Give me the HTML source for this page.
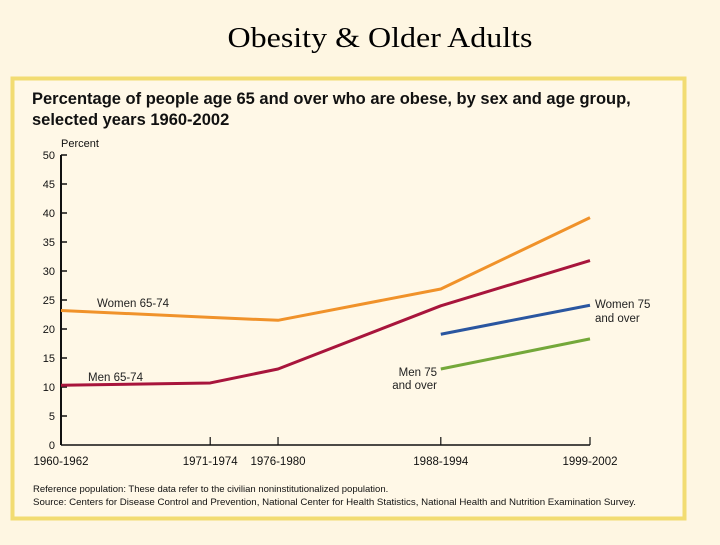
<!DOCTYPE html>
<html><head><meta charset="utf-8"><style>
body{margin:0;width:720px;height:540px;background:#FEF6E2;overflow:hidden;font-family:"Liberation Sans",sans-serif}
</style></head><body>
<svg width="720" height="540">
<text x="380" y="47" text-anchor="middle" font-family="Liberation Serif" font-size="29" fill="#000" textLength="305" lengthAdjust="spacingAndGlyphs">Obesity &amp; Older Adults</text>
<rect x="12.5" y="78.5" width="672" height="440" fill="#FFF8E7" stroke="#F2DC72" stroke-width="4"/>
<text x="32" y="104" font-size="16.5" font-weight="bold" fill="#111">Percentage of people age 65 and over who are obese, by sex and age group,</text>
<text x="32" y="125" font-size="16.5" font-weight="bold" fill="#111">selected years 1960-2002</text>
<text x="61" y="147" font-size="11" fill="#111">Percent</text>
<g id="axes"></g><g id="series"></g>
<text x="33" y="492" font-size="9.5" fill="#111">Reference population: These data refer to the civilian noninstitutionalized population.</text>
<text x="33" y="505" font-size="9.5" fill="#111" textLength="603" lengthAdjust="spacingAndGlyphs">Source: Centers for Disease Control and Prevention, National Center for Health Statistics, National Health and Nutrition Examination Survey.</text>
</svg>
<script>
const categories=["1960-1962","1971-1974","1976-1980","1988-1994","1999-2002"];
const startYears=[1960,1971,1976,1988,1999];
const women6574=[23.2,22.0,21.5,26.9,39.2];
const men6574=[10.3,10.7,13.1,24.0,31.8];
const women75=[null,null,null,19.1,24.1];
const men75=[null,null,null,13.1,18.3];
const yTicks=[0,5,10,15,20,25,30,35,40,45,50];
const NS="http://www.w3.org/2000/svg";
const X=y=>61+(y-1960)*(590-61)/39;
const Y=v=>445-v*5.8;
function mk(t,a,p){const e=document.createElementNS(NS,t);for(const k in a)e.setAttribute(k,a[k]);p.appendChild(e);return e;}
const ax=document.getElementById('axes');
const yl=mk('line',{x1:61,y1:Y(0),x2:61,y2:Y(50),stroke:'#111','stroke-width':2},ax);


const xl=mk('line',{x1:61,y1:Y(0),x2:X(1999),y2:Y(0),stroke:'#111','stroke-width':1.5},ax);


yTicks.forEach(v=>{
  if(v>0){const tk=mk('line',{x1:61,y1:Y(v),x2:67,y2:Y(v),stroke:'#111','stroke-width':1.5},ax);
  
  }
  const t=mk('text',{x:55,y:Y(v)+4,'text-anchor':'end','font-size':11,fill:'#111'},ax);t.textContent=v;
  
  
});
categories.forEach((c,i)=>{
  const x=X(startYears[i]);
  if(i>0){const tk=mk('line',{x1:x,y1:Y(0),x2:x,y2:Y(0)-8,stroke:'#111','stroke-width':1.2},ax);
  
  }
  const t=mk('text',{x:x,y:465,'text-anchor':'middle','font-size':11.5,fill:'#111'},ax);t.textContent=c;
  
  
});
const sg=document.getElementById('series');
function line(vals,color,name){
  const pts=[];vals.forEach((v,i)=>{if(v!=null)pts.push(X(startYears[i])+','+Y(v));});
  const p=mk('polyline',{points:pts.join(' '),fill:'none',stroke:color,'stroke-width':3,'stroke-linejoin':'round'},sg);
  
  
}
line(women6574,'#F0922A','line-women-65-74');
line(men6574,'#A8153C','line-men-65-74');
line(women75,'#2A56A0','line-women-75-over');
line(men75,'#74A83A','line-men-75-over');
function lab(x,y,s,anchor){const t=mk('text',{x:x,y:y,'font-size':11.5,fill:'#222','text-anchor':anchor||'start'},sg);t.textContent=s;

}
lab(97,307,'Women 65-74');lab(88,381,'Men 65-74');
lab(595,308,'Women 75');lab(595,322,'and over');
lab(437,376,'Men 75','end');lab(437,389,'and over','end');
</script>
</body></html>
